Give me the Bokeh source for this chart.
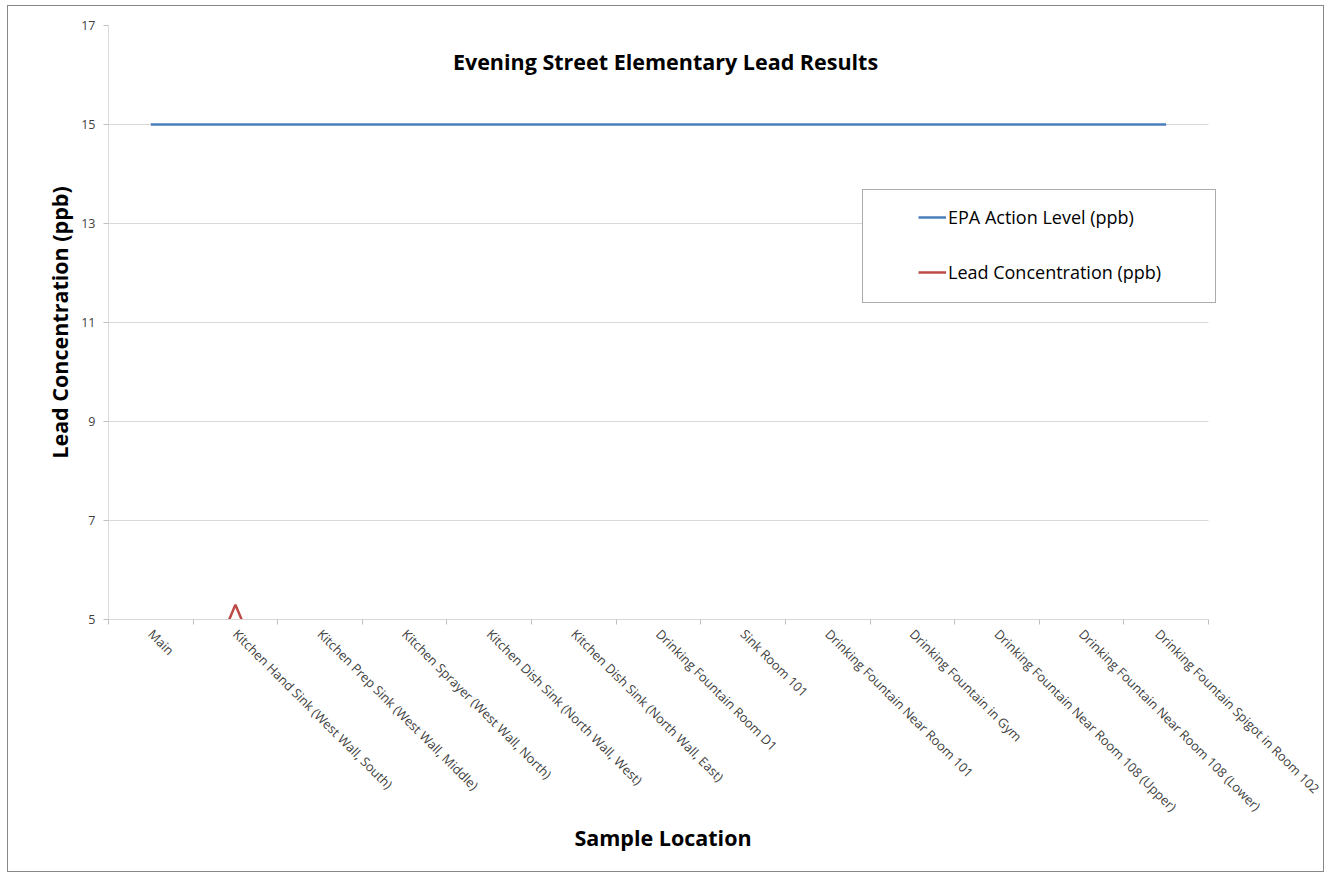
import math
from bokeh.plotting import figure
from bokeh.models import Range1d, FixedTicker, Legend, LegendItem, Label
from bokeh.embed import file_html
from bokeh.resources import INLINE

# ---- data ----
locations = [
    "Main",
    "Kitchen Hand Sink (West Wall, South)",
    "Kitchen Prep Sink (West Wall, Middle)",
    "Kitchen Sprayer (West Wall, North)",
    "Kitchen Dish Sink (North Wall, West)",
    "Kitchen Dish Sink (North Wall, East)",
    "Drinking Fountain Room D1",
    "Sink Room 101",
    "Drinking Fountain Near Room 101",
    "Drinking Fountain in Gym",
    "Drinking Fountain Near Room 108 (Upper)",
    "Drinking Fountain Near Room 108 (Lower)",
    "Drinking Fountain Spigot in Room 102",
]
epa_action_level = [15, 15, 15, 15, 15, 15, 15, 15, 15, 15, 15, 15, 15]
lead_concentration = [1.2, 5.3, 1.2, 1.0, 1.0, 1.0, 1.0, 1.0, 1.0, 1.0, 1.0, 1.0, 1.0]
y_ticks = [5, 7, 9, 11, 13, 15, 17]
title_text = "Evening Street Elementary Lead Results"
x_title = "Sample Location"
y_title = "Lead Concentration (ppb)"

FONT = "Open Sans"
n = len(locations)
xs = list(range(n))
x_lo, x_hi = -0.5, n - 0.5
extra = 9 / 84.46  # frame extends a little past the last category so the legend box fits

p = figure(width=1317, height=867,
           x_range=Range1d(x_lo, x_hi + extra), y_range=Range1d(y_ticks[0], y_ticks[-1]),
           output_backend="svg", toolbar_location=None,
           min_border_left=100, min_border_right=108,
           min_border_top=19, min_border_bottom=254)
p.styles = {"border": "1px solid #888888", "margin-left": "7px", "margin-top": "5px"}
p.outline_line_color = None
p.background_fill_color = "white"
p.border_fill_color = "white"

# grid
p.xgrid.visible = False
p.ygrid.ticker = FixedTicker(ticks=y_ticks)
p.ygrid.grid_line_color = "#d9d9d9"
p.ygrid.grid_line_width = 1
try:
    p.ygrid.cross_bounds = (x_lo, x_hi)
except Exception:
    pass

# x axis
xa = p.xaxis[0]
xa.bounds = (x_lo, x_hi)
xa.ticker = FixedTicker(ticks=xs, minor_ticks=[i - 0.5 for i in range(n + 1)])
xa.major_label_overrides = {i: locations[i] for i in xs}
xa.major_tick_line_color = None
xa.minor_tick_line_color = "#bfbfbf"
xa.minor_tick_out = 5
xa.minor_tick_in = 0
xa.axis_line_color = "#d9d9d9"
xa.major_label_orientation = -math.pi / 4
xa.major_label_standoff = 6
xa.major_label_text_font = FONT
xa.major_label_text_font_size = "12.8px"
xa.major_label_text_color = "#404040"
xa.axis_label = x_title
xa.axis_label_text_font = FONT
xa.axis_label_text_font_style = "bold"
xa.axis_label_text_font_size = "21.5px"
xa.axis_label_text_color = "#000000"
xa.axis_label_standoff = -2

# y axis
ya = p.yaxis[0]
ya.ticker = FixedTicker(ticks=y_ticks)
ya.major_tick_line_color = "#bfbfbf"
ya.major_tick_out = 5
ya.major_tick_in = 0
ya.minor_tick_line_color = None
ya.axis_line_color = "#d9d9d9"
ya.major_label_standoff = 8
ya.major_label_text_font = FONT
ya.major_label_text_font_size = "12.5px"
ya.major_label_text_color = "#404040"
ya.axis_label = y_title
ya.axis_label_text_font = FONT
ya.axis_label_text_font_style = "bold"
ya.axis_label_text_font_size = "21.5px"
ya.axis_label_text_color = "#000000"
ya.axis_label_standoff = 4

# series
r_epa = p.line(xs, epa_action_level, line_color="#4a7ebb", line_width=2.5)
r_lead = p.line(xs, lead_concentration, line_color="#be4b48", line_width=2.5)

# title inside plot area
p.add_layout(Label(x=(664 - 108) / 84.46 - 0.5, y=17 - (61 - 25) / 49.5, text=title_text,
                   text_font=FONT, text_font_style="bold", text_font_size="21.5px",
                   text_align="center", text_baseline="middle", text_color="#000000"))

# legend frame (a bordered, white legend box without visible entries)
r_blank = p.line([], [], line_alpha=0)
box_legend = Legend(items=[LegendItem(label=" ", renderers=[r_blank])],
                    location=(754, 316), padding=0, margin=0, spacing=0,
                    glyph_width=0, glyph_height=112, label_standoff=0,
                    label_width=352, label_height=112,
                    label_text_font_size="1px",
                    border_line_color="#595959", border_line_width=1,
                    background_fill_color="white", background_fill_alpha=1.0)
p.add_layout(box_legend)

legend = Legend(items=[LegendItem(label="EPA Action Level (ppb)", renderers=[r_epa]),
                       LegendItem(label="Lead Concentration (ppb)", renderers=[r_lead])],
                location=(810, 334), padding=0, margin=0,
                spacing=29, label_height=26, glyph_height=26, glyph_width=28,
                label_standoff=2, border_line_color=None, background_fill_alpha=0,
                label_text_font=FONT, label_text_font_size="18px", label_text_color="#000000")
p.add_layout(legend)

open("out.html", "w").write(file_html(p, INLINE))
